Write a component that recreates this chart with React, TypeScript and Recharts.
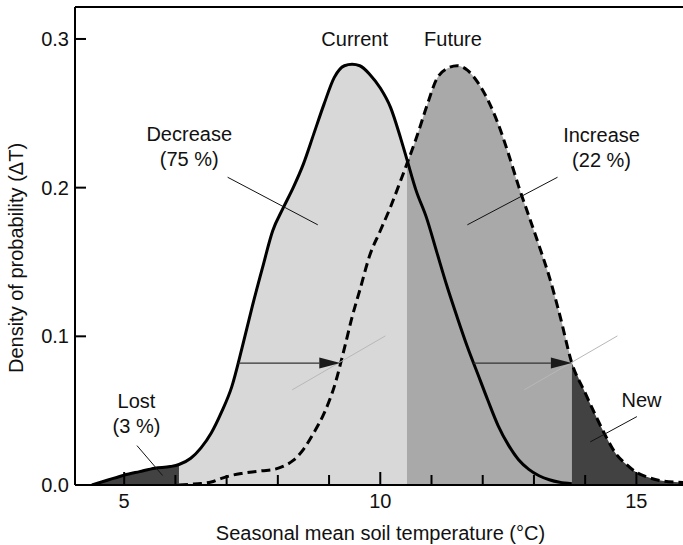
import {
  ComposedChart,
  Area,
  Line,
  XAxis,
  YAxis,
  ReferenceLine,
  ReferenceDot,
} from "recharts";

// soil temperature grid (°C)
const temps = [
  4.37, 4.7, 5.0, 5.3, 5.6, 5.9, 6.07, 6.3, 6.5, 6.7, 6.9, 7.1, 7.3, 7.5, 7.7,
  7.9, 8.1, 8.3, 8.5, 8.7, 8.9, 9.1, 9.3, 9.45, 9.6, 9.8, 10.0, 10.2, 10.4,
  10.52, 10.7, 10.9, 11.1, 11.3, 11.5, 11.7, 11.9, 12.1, 12.3, 12.5, 12.7, 12.9,
  13.1, 13.3, 13.5, 13.74, 14.0, 14.2, 14.4, 14.6, 14.8, 15.0, 15.2, 15.5, 15.92,
];

// density, current climate (solid)
const current = [
  0, 0.0035, 0.0066, 0.009, 0.0113, 0.0124, 0.0138, 0.018, 0.025, 0.035, 0.049,
  0.066, 0.092, 0.12, 0.146, 0.171, 0.186, 0.2, 0.216, 0.236, 0.256, 0.274,
  0.282, 0.283, 0.282, 0.276, 0.267, 0.254, 0.233, 0.219, 0.198, 0.18, 0.157,
  0.134, 0.113, 0.093, 0.075, 0.057, 0.04, 0.027, 0.017, 0.0105, 0.0062, 0.0035,
  0.0018, 0.0008, null, null, null, null, null, null, null, null, null,
];

// density, future climate (dashed)
const future = [
  null, null, null, null, null, null, 0, 0.0005, 0.001, 0.002, 0.0045, 0.0065,
  0.0078, 0.0088, 0.0096, 0.0103, 0.0125, 0.0165, 0.024, 0.035, 0.048, 0.066,
  0.092, 0.113, 0.131, 0.155, 0.171, 0.187, 0.205, 0.216, 0.233, 0.254, 0.273,
  0.28, 0.282, 0.279, 0.271, 0.259, 0.243, 0.223, 0.201, 0.181, 0.161, 0.14,
  0.115, 0.082, 0.062, 0.047, 0.033, 0.021, 0.014, 0.0085, 0.0055, 0.0028,
  0.0017,
];

// region boundaries
const lostEnd = 6.07;
const crossing = 10.52;
const newStart = 13.74;

const xDomain = [4.04, 15.91];
const yMax = 0.3215;
const xTicks = [5, 6, 7, 8, 9, 10, 11, 12, 13, 14, 15];
const xLabelled = [5, 10, 15];
const yTicks = [0, 0.1, 0.2, 0.3];

const arrows = [
  { from: 7.23, to: 9.22, y: 0.082 },
  { from: 11.82, to: 13.74, y: 0.082 },
];

const shiftLines = [
  { x1: 8.28, y1: 0.064, x2: 10.1, y2: 0.1003 },
  { x1: 12.81, y1: 0.064, x2: 14.63, y2: 0.1003 },
];

const leaders = [
  { x1: 7.02, y1: 0.207, x2: 8.78, y2: 0.175 },
  { x1: 13.46, y1: 0.207, x2: 11.7, y2: 0.175 },
  { x1: 5.25, y1: 0.0265, x2: 5.75, y2: 0.0064 },
  { x1: 15.01, y1: 0.046, x2: 14.1, y2: 0.029 },
];

const labels = [
  { x: 9.5, y: 0.2997, lines: ["Current"] },
  { x: 11.42, y: 0.2997, lines: ["Future"] },
  { x: 6.27, y: 0.2359, lines: ["Decrease", "(75 %)"] },
  { x: 14.32, y: 0.2352, lines: ["Increase", "(22 %)"] },
  { x: 5.24, y: 0.0567, lines: ["Lost", "(3 %)"] },
  { x: 15.1, y: 0.057, lines: ["New"] },
];

const data = temps.map((t, i) => ({
  t,
  current: current[i],
  future: future[i],
  lost: t <= lostEnd ? current[i] : null,
  decrease: t >= lostEnd && t <= crossing ? current[i] : null,
  increase: t >= crossing && t <= newStart ? future[i] : null,
  gained: t >= newStart ? future[i] : null,
}));

const FONT = '"Liberation Sans", Arial, sans-serif';

const XTick = (props: any) => {
  const { x, y, payload } = props;
  const major = xLabelled.includes(payload.value);
  return (
    <g>
      <line x1={x} y1={y} x2={x} y2={y - (major ? 13 : 10)} stroke="#000" strokeWidth={2} />
      {major && (
        <text x={x} y={y + 23} textAnchor="middle" fontSize={20} fontFamily={FONT} fill="#111">
          {payload.value}
        </text>
      )}
    </g>
  );
};

const YTick = (props: any) => {
  const { x, y, payload } = props;
  return (
    <g>
      <line x1={x} y1={y} x2={x + 11} y2={y} stroke="#000" strokeWidth={2} />
      <text x={x - 6} y={y + 7} textAnchor="end" fontSize={20} fontFamily={FONT} fill="#111">
        {payload.value.toFixed(1)}
      </text>
    </g>
  );
};

const XTitle = (props: any) => {
  const vb = props.viewBox;
  return (
    <text x={vb.x + vb.width / 2 + 1.5} y={vb.y + 54.5} textAnchor="middle" fontSize={20} fontFamily={FONT} fill="#111">
      Seasonal mean soil temperature (°C)
    </text>
  );
};

const YTitle = (props: any) => {
  const vb = props.viewBox;
  const cx = 16;
  const cy = vb.y + vb.height / 2 + 12;
  return (
    <text
      x={cx}
      y={cy}
      dy={7}
      transform={`rotate(-90, ${cx}, ${cy})`}
      textAnchor="middle"
      fontSize={20}
      fontFamily={FONT}
      fill="#111"
    >
      Density of probability (ΔT)
    </text>
  );
};

const ArrowShape = (p: any) => {
  const { x1, y1, x2, y2 } = p;
  const len = 21;
  const half = 5.5;
  return (
    <g>
      <line x1={x1} y1={y1} x2={x2 - len} y2={y2} stroke="#333" strokeWidth={1.2} />
      <polygon points={`${x2},${y2} ${x2 - len},${y2 - half} ${x2 - len},${y2 + half}`} fill="#1a1a1a" />
    </g>
  );
};

const makeLabel = (lines: string[]) => (p: any) => (
  <text textAnchor="middle" fontSize={20} fontFamily={FONT} fill="#111">
    {lines.map((s, i) => (
      <tspan key={i} x={p.cx} y={p.cy + 7 + i * 25}>
        {s}
      </tspan>
    ))}
  </text>
);

export default function App() {
  return (
    <div style={{ width: 683, height: 545 }}>
      <style>{`body{margin:0}`}</style>
      <ComposedChart
        width={683}
        height={545}
        data={data}
        margin={{ top: 7, right: 0, bottom: 0, left: 0 }}
      >
        <Area dataKey="lost" type="monotone" fill="#424242" stroke="none" fillOpacity={1} isAnimationActive={false} dot={false} activeDot={false} />
        <Area dataKey="decrease" type="monotone" fill="#d8d8d8" stroke="none" fillOpacity={1} isAnimationActive={false} dot={false} activeDot={false} />
        <Area dataKey="increase" type="monotone" fill="#a8a9a8" stroke="none" fillOpacity={1} isAnimationActive={false} dot={false} activeDot={false} />
        <Area dataKey="gained" type="monotone" fill="#424242" stroke="none" fillOpacity={1} isAnimationActive={false} dot={false} activeDot={false} />
        <Line dataKey="current" type="monotone" stroke="#000" strokeWidth={3} dot={false} activeDot={false} isAnimationActive={false} />
        <Line dataKey="future" type="monotone" stroke="#000" strokeWidth={3} strokeDasharray="9 5" dot={false} activeDot={false} isAnimationActive={false} />

        {shiftLines.map((s, i) => (
          <ReferenceLine key={`s${i}`} segment={[{ x: s.x1, y: s.y1 }, { x: s.x2, y: s.y2 }]} stroke="#b8b8b8" strokeWidth={1} ifOverflow="visible" />
        ))}
        {arrows.map((a, i) => (
          <ReferenceLine key={`a${i}`} segment={[{ x: a.from, y: a.y }, { x: a.to, y: a.y }]} shape={ArrowShape} ifOverflow="visible" />
        ))}
        {leaders.map((s, i) => (
          <ReferenceLine key={`l${i}`} segment={[{ x: s.x1, y: s.y1 }, { x: s.x2, y: s.y2 }]} stroke="#111" strokeWidth={1} ifOverflow="visible" />
        ))}
        {labels.map((l, i) => (
          <ReferenceDot key={`t${i}`} x={l.x} y={l.y} r={0} shape={makeLabel(l.lines)} ifOverflow="visible" />
        ))}
        <ReferenceLine y={yMax} stroke="#000" strokeWidth={2} ifOverflow="visible" />

        <XAxis
          dataKey="t"
          type="number"
          domain={xDomain}
          allowDataOverflow
          ticks={xTicks}
          interval={0}
          height={60}
          tickSize={0}
          tickMargin={0}
          tickLine={false}
          tick={XTick}
          axisLine={{ stroke: "#000", strokeWidth: 2 }}
          label={<XTitle />}
        />
        <YAxis
          type="number"
          domain={[0, yMax]}
          allowDataOverflow
          ticks={yTicks}
          interval={0}
          width={75}
          tickSize={0}
          tickMargin={0}
          tickLine={false}
          tick={YTick}
          axisLine={{ stroke: "#000", strokeWidth: 2 }}
          label={<YTitle />}
        />
      </ComposedChart>
    </div>
  );
}
